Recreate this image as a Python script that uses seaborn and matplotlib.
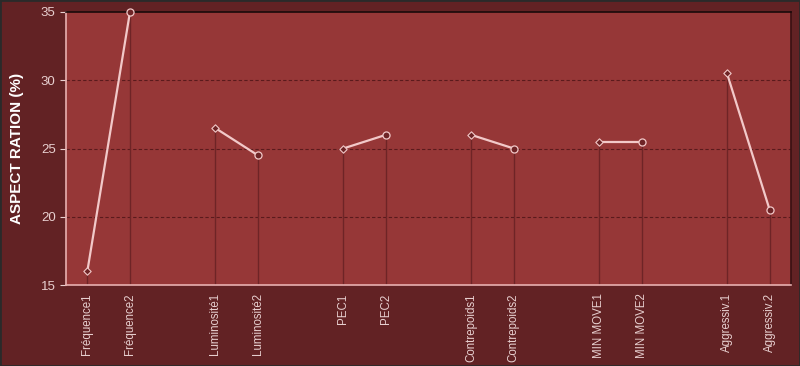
import numpy as np
import pandas as pd
import matplotlib
matplotlib.use("Agg")
import matplotlib.pyplot as plt
import seaborn as sns

# data
labels = ["Fréquence1", "Fréquence2", "Luminosité1", "Luminosité2",
          "PEC1", "PEC2", "Contrepoids1", "Contrepoids2",
          "MIN MOVE1", "MIN MOVE2", "Aggressiv.1", "Aggressiv.2"]
values = [16, 35, 26.5, 24.5, 25, 26, 26, 25, 25.5, 25.5, 30.5, 20.5]
groups = ["Fréquence", "Fréquence", "Luminosité", "Luminosité",
          "PEC", "PEC", "Contrepoids", "Contrepoids",
          "MIN MOVE", "MIN MOVE", "Aggressiv", "Aggressiv"]
slots = [0, 1, 3, 4, 6, 7, 9, 10, 12, 13, 15, 16]

df = pd.DataFrame({"label": labels, "value": values, "group": groups, "slot": slots})

fig_bg = "#622224"
ax_bg = "#963737"
line_c = "#f2c9c9"
drop_c = "#6e2426"

sns.set_theme(style="white")
plt.rcParams["font.family"] = ["Liberation Sans", "DejaVu Sans"]

fig = plt.figure(figsize=(8.0, 3.66), dpi=100, facecolor=fig_bg)
ax = fig.add_axes([66 / 800, 1 - 285 / 366, (791 - 66) / 800, (285 - 12) / 366])
ax.set_facecolor(ax_bg)

# drop lines from each point to the bottom
ax.vlines(df["slot"], 15, df["value"], color=drop_c, lw=1.0, zorder=1)

# grid
for y in [20, 25, 30]:
    ax.axhline(y, color="#5a1a1c", lw=0.8, ls=(0, (3, 2)), zorder=0.5)

# connecting lines per pair
sns.lineplot(data=df, x="slot", y="value", units="group", estimator=None,
             color=line_c, lw=1.6, ax=ax, zorder=2, legend=False)

first = df.iloc[0::2]
second = df.iloc[1::2]
ax.scatter(first["slot"], first["value"], marker="D", s=14, color="#6e2426",
           edgecolor=line_c, linewidth=0.8, zorder=3)
ax.scatter(second["slot"], second["value"], marker="o", s=26, color="#6e2426",
           edgecolor=line_c, linewidth=0.9, zorder=3, clip_on=False)

ax.set_xlim(-0.5, 16.5)
ax.set_ylim(15, 35)
ax.set_yticks([15, 20, 25, 30, 35])
ax.set_xticks(df["slot"])
ax.set_xticklabels(df["label"], rotation=90, color="#e8d0d0", fontsize=8.3)
ax.tick_params(axis="y", colors="#e8d0d0", labelsize=9.5, length=4, left=True, width=0.8)
ax.tick_params(axis="x", length=0, pad=6)
for t in ax.get_yticklabels():
    t.set_color("#e8d0d0")
ax.set_xlabel("")
ax.set_ylabel("ASPECT RATION (%)", color="white", fontsize=11, fontweight="bold", labelpad=12)

ax.spines["top"].set_color("#1a0a0a")
ax.spines["right"].set_color("#3a1012")
ax.spines["left"].set_color("#e8b0b0")
ax.spines["bottom"].set_color("#e8b0b0")
for s in ax.spines.values():
    s.set_linewidth(1.2)

# figure border
fig.patches.append(plt.Rectangle((0, 0), 1, 1, transform=fig.transFigure,
                                 fill=False, edgecolor="#2a2a2a", lw=2))

fig.savefig("out.png", dpi=100, facecolor=fig_bg)
